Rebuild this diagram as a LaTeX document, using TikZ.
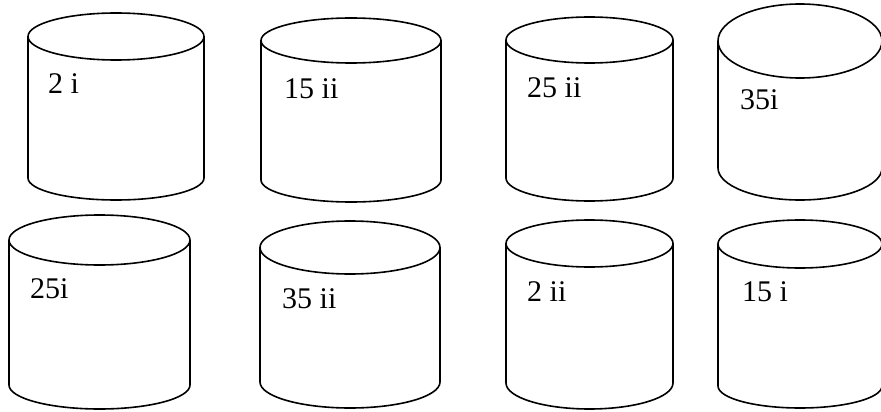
\documentclass[tikz,border=0pt]{standalone}
\usepackage{fontspec}
\setmainfont{Liberation Serif}
\newcommand\drawcyl[6]{%
  \draw[cylline] (#1-#3,#2) -- (#1-#3,#5)
    arc[start angle=180, end angle=0, x radius=#3, y radius=#6] -- (#1+#3,#2);
  \draw[cylline] (#1,#2) ellipse[x radius=#3, y radius=#4];
}
\begin{document}
\begin{tikzpicture}[x=1pt,y=-1pt,
  cylline/.style={line width=1.6pt},
  lab/.style={anchor=base west, inner sep=0pt, font=\fontsize{30}{35}\selectfont}]
\useasboundingbox (0,0) rectangle (881,412);
\clip (0,0) rectangle (881,412);
% row 1
\drawcyl{116}{36.5}{88}{23.5}{178}{22}
\node[lab] (l1) at (48,93.5) {2 i};
\drawcyl{351}{40.5}{90}{22.5}{180}{22}
\node[lab] (l2) at (284,99) {15 ii};
\drawcyl{589.5}{40}{83.5}{23}{178}{23}
\node[lab] (l3) at (527,98) {25 ii};
\drawcyl{800}{41}{82}{37}{168}{32}
\node[lab] (l4) at (740,109) {35i};
% row 2
\drawcyl{99.5}{240}{90.5}{25}{385}{24}
\node[lab] (l5) at (30,298) {25i};
\drawcyl{350}{247.5}{90}{26.5}{382}{26}
\node[lab] (l6) at (282,308) {35 ii};
\drawcyl{589.5}{243.5}{83.5}{23.5}{383}{26}
\node[lab] (l7) at (527,301) {2 ii};
\drawcyl{800}{244}{82}{24}{386}{22}
\node[lab] (l8) at (742,301) {15 i};
\end{tikzpicture}
\end{document}
